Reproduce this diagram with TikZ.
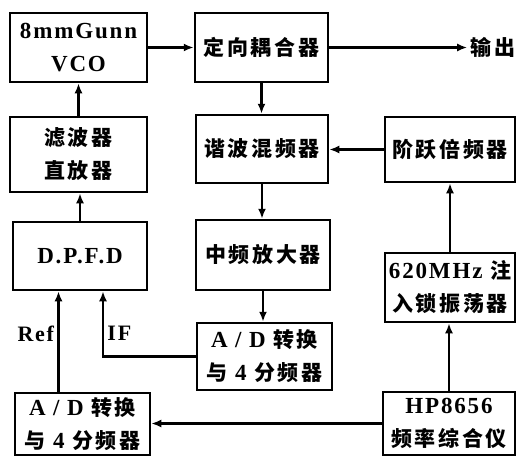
\documentclass[tikz,border=0pt]{standalone}
\usepackage{fontspec}
\setmainfont{Liberation Serif}[LetterSpace=8]
\newfontfamily\cjk[LetterSpace=12]{Noto Sans CJK SC}
\newcommand{\zh}[1]{{\fontsize{21}{33}\selectfont\cjk #1}}
\usetikzlibrary{arrows.meta,positioning,calc}
\tikzset{
  >={Latex[length=10pt,width=8pt]},
  blk/.style={draw,line width=2.5pt,minimum width=133pt,minimum height=68pt,inner sep=2pt,align=center,
    font=\fontsize{23}{33}\selectfont\bfseries},
  arr/.style={->,line width=2.3pt},
  lbl/.style={font=\fontsize{22}{24}\selectfont\bfseries},
}

\begin{document}
\begin{tikzpicture}[x=1pt,y=-1pt]
\useasboundingbox (0,0) rectangle (517,458);
% left column
\node[blk,minimum width=137pt,minimum height=69pt] (vco) at (78.5,47.5) {8mmGunn\\VCO};
\node[blk,minimum width=137pt,minimum height=75pt] (filter) at (78.5,154.5) {\zh{滤波器}\\\zh{直放器}};
\node[blk,minimum width=134pt] (dpfd) at (80,256) {D.P.F.D};
\node[blk,minimum width=135pt,minimum height=62pt] (adleft) at (82.5,424) {A / D \zh{转换}\\\zh{与} 4 \zh{分频器}};
% middle column
\node[blk,minimum height=69pt] (coupler) at (261.5,47.5) {\zh{定向耦合器}};
\node[blk,minimum width=132pt] (mixer) at (262,149) {\zh{谐波混频器}};
\node[blk,minimum width=134pt,minimum height=70pt] (ifamp) at (263,255) {\zh{中频放大器}};
\node[blk,minimum width=135pt,minimum height=67pt] (admid) at (264.5,356.5) {A / D \zh{转换}\\\zh{与} 4 \zh{分频器}};
% right column
\node[blk,minimum width=130pt,minimum height=65pt] (step) at (450,149.5) {\zh{阶跃倍频器}};
\node[blk,minimum width=130pt,minimum height=69pt] (inj) at (450,287.5) {620MHz \zh{注}\\\zh{入锁振荡器}};
\node[blk,minimum width=132pt,minimum height=63pt] (hp) at (449,423.5) {HP8656\\\zh{频率综合仪}};
\node[font=\bfseries] (outlbl) at (493,47.5) {\zh{输出}};
% connectors
\draw[arr] (vco) -- (coupler);
\draw[arr] (coupler.east) -- (outlbl.west);
\foreach \u/\v in {coupler/mixer,mixer/ifamp,ifamp/admid}
  \draw[arr] (\u.south) -- (\u.south |- \v.north);
\foreach \u/\v in {dpfd/filter,filter/vco,inj/step,hp/inj}
  \draw[arr] (\u.north) -- (\u.north |- \v.south);
\draw[arr] (step.west) -- (step.west -| mixer.east);
\draw[arr] (hp.west) -- (hp.west -| adleft.east);
\draw[arr] ([xshift=-24pt]adleft.north) -- ([xshift=-24pt]adleft.north |- dpfd.south)
  node[lbl,pos=0.58,left] {Ref};
\draw[arr] (admid.west) -| ([xshift=23pt]dpfd.south) node[lbl,pos=0.68,right] {IF};
\end{tikzpicture}
\end{document}
